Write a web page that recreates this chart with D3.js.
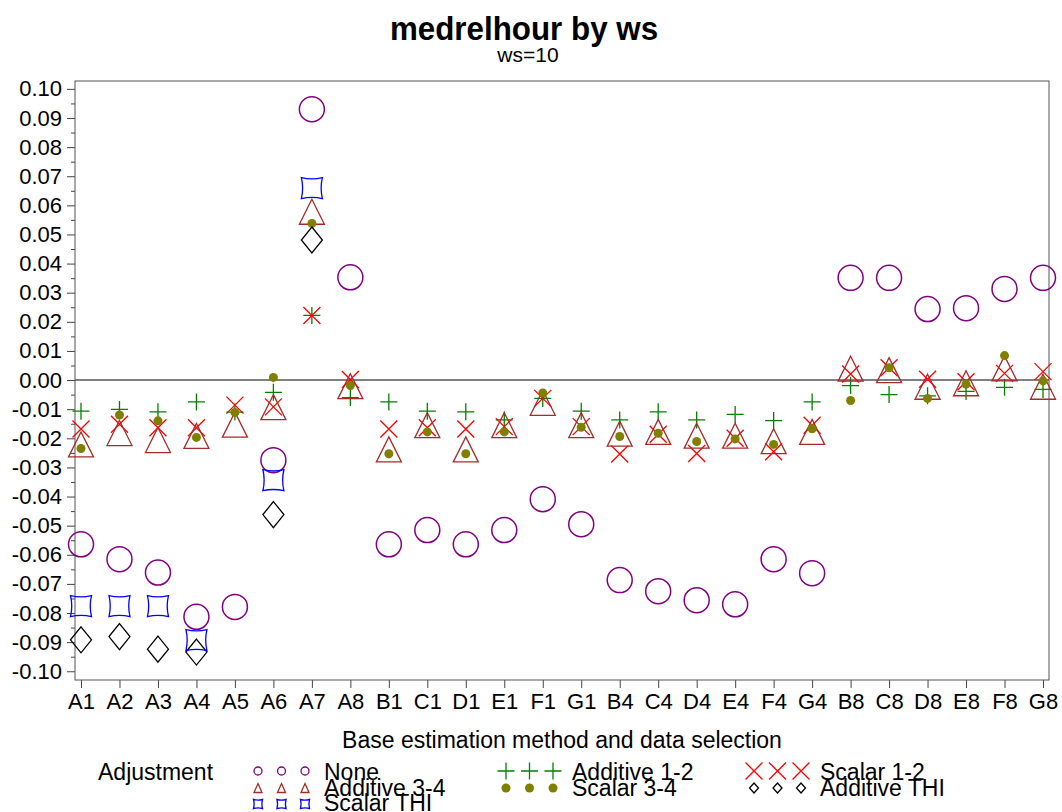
<!DOCTYPE html>
<head>
  <meta charset="utf-8">
  <script src="https://cdn.jsdelivr.net/npm/d3@7/dist/d3.min.js"></script>
  <style>
    body { margin:0; background:#fff; }
    svg { display:block; }
    text { font-family: "Liberation Sans", Arial, sans-serif; fill:#000; }
  </style>
</head>

<body>
  <script>
    var width = 1062;
    var height = 812;

    // categories along the bottom
    var cats = ["A1","A2","A3","A4","A5","A6","A7","A8","B1","C1","D1","E1","F1","G1",
                "B4","C4","D4","E4","F4","G4","B8","C8","D8","E8","F8","G8"];

    // one array per adjustment
    var none   = [-0.0564,-0.0615,-0.0661,-0.0813,-0.0779,-0.0275,0.0930,0.0353,-0.0564,-0.0515,-0.0564,-0.0515,-0.0409,-0.0495,
                  -0.0687,-0.0725,-0.0756,-0.0770,-0.0615,-0.0663,0.0351,0.0351,0.0244,0.0247,0.0313,0.0351];
    var add12  = [-0.0107,-0.0101,-0.0109,-0.0075,-0.0110,-0.0042,0.0222,-0.0060,-0.0075,-0.0107,-0.0109,-0.0137,-0.0063,-0.0107,
                  -0.0137,-0.0109,-0.0137,-0.0118,-0.0139,-0.0075,-0.0019,-0.0050,-0.0054,-0.0039,-0.0025,-0.0032];
    var sc12   = [-0.0168,-0.0152,-0.0164,-0.0164,-0.0086,-0.0092,0.0222,0.0002,-0.0168,-0.0164,-0.0168,-0.0160,-0.0063,-0.0160,
                  -0.0254,-0.0186,-0.0252,-0.0200,-0.0246,-0.0155,0.0021,0.0042,0.0003,-0.0006,0.0023,0.0029];
    var add34  = [-0.0221,-0.0182,-0.0206,-0.0192,-0.0153,-0.0093,0.0578,-0.0021,-0.0238,-0.0155,-0.0238,-0.0155,-0.0078,-0.0155,
                  -0.0184,-0.0178,-0.0191,-0.0191,-0.0210,-0.0178,0.0039,0.0034,-0.0023,-0.0011,0.0040,-0.0023];
    var sc34   = [-0.0235,-0.0120,-0.0140,-0.0197,-0.0111,0.0009,0.0538,-0.0019,-0.0253,-0.0178,-0.0253,-0.0178,-0.0044,-0.0162,
                  -0.0194,-0.0183,-0.0211,-0.0202,-0.0221,-0.0167,-0.0070,0.0042,-0.0063,-0.0014,0.0084,-0.0003];
    var addTHI = [-0.0892,-0.0881,-0.0924,-0.0934,null,-0.0462,0.0481,null,null,null,null,null,null,null,
                  null,null,null,null,null,null,null,null,null,null,null,null];
    var scTHI  = [-0.0776,-0.0776,-0.0776,-0.0893,null,-0.0344,0.0659,null,null,null,null,null,null,null,
                  null,null,null,null,null,null,null,null,null,null,null,null];

    var yTicks = d3.range(-10, 11).map(function(i){ return i / 100; });

    // series table built from the arrays above
    var series = [
      {name:"None",         vals:none,   color:"#800080", shape:"circle"},
      {name:"Additive 1-2", vals:add12,  color:"#008000", shape:"plus"},
      {name:"Scalar 1-2",   vals:sc12,   color:"#ff0000", shape:"x"},
      {name:"Additive 3-4", vals:add34,  color:"#a52a2a", shape:"triangle"},
      {name:"Scalar 3-4",   vals:sc34,   color:"#808000", shape:"dot"},
      {name:"Additive THI", vals:addTHI, color:"#000000", shape:"diamond"},
      {name:"Scalar THI",   vals:scTHI,  color:"#0000ff", shape:"square"}
    ];

    // marker paths, big = plot size, small = legend size
    function shapePath(shape, big) {
      var p = d3.path();
      if (shape == "circle") {
        var r = big ? 12.5 : 4;
        p.arc(0, 0, r, 0, 2 * Math.PI);
      } else if (shape == "dot") {
        p.arc(0, 0, 4.5, 0, 2 * Math.PI);
      } else if (shape == "plus") {
        var s = 8.5;
        p.moveTo(-s, 0); p.lineTo(s, 0); p.moveTo(0, -s); p.lineTo(0, s);
      } else if (shape == "x") {
        var s = 8.5;
        p.moveTo(-s, -s); p.lineTo(s, s); p.moveTo(-s, s); p.lineTo(s, -s);
      } else if (shape == "triangle") {
        var w = big ? 25 : 8, h = big ? 25 : 9;
        p.moveTo(0, -h / 2); p.lineTo(w / 2, h / 2); p.lineTo(-w / 2, h / 2); p.closePath();
      } else if (shape == "diamond") {
        var w = big ? 21 : 9, h = big ? 26 : 10;
        p.moveTo(0, -h / 2); p.lineTo(w / 2, 0); p.lineTo(0, h / 2); p.lineTo(-w / 2, 0); p.closePath();
      } else if (shape == "square") {
        var s = big ? 10.5 : 4.5, c = big ? 2.5 : 1.2;
        p.moveTo(-s, -s);
        p.quadraticCurveTo(0, -s + c, s, -s);
        p.quadraticCurveTo(s - c, 0, s, s);
        p.quadraticCurveTo(0, s - c, -s, s);
        p.quadraticCurveTo(-s + c, 0, -s, -s);
        p.closePath();
      }
      return p.toString();
    }

    var svg = d3.select("body").append("svg")
      .attr("width", width)
      .attr("height", height);

    // plot frame (note: "top" is taken by window.top)
    var pLeft = 75, pRight = 1049, pTop = 81, pBottom = 680;

    var x = d3.scalePoint().domain(cats).range([81, 1043]);
    var y = d3.scaleLinear().domain([-0.103, 0.1027]).range([pBottom, pTop]);

    // titles
    svg.append("text")
      .attr("transform", "translate(524,40) scale(0.95,1)")
      .attr("text-anchor", "middle")
      .style("font-size", "33px").style("font-weight", "bold")
      .text("medrelhour by ws");
    svg.append("text")
      .attr("x", 528).attr("y", 62)
      .attr("text-anchor", "middle")
      .style("font-size", "21px")
      .text("ws=10");

    // minor y ticks
    var minor = d3.range(-9.5, 10, 1).map(function(i){ return i / 100; });
    svg.append("g")
      .attr("transform", "translate(" + pLeft + ",0)")
      .call(d3.axisLeft(y).tickValues(minor).tickSize(4).tickFormat(""))
      .call(function(g){ g.select(".domain").remove(); })
      .selectAll("line").attr("stroke", "#444");

    // y axis
    var yAxis = svg.append("g")
      .attr("transform", "translate(" + pLeft + ",0)")
      .call(d3.axisLeft(y).tickValues(yTicks).tickSize(8).tickPadding(5)
        .tickFormat(function(d){ return d.toFixed(2); }));
    yAxis.select(".domain").remove();
    yAxis.selectAll("line").attr("stroke", "#444");
    yAxis.selectAll("text").style("font-size", "22px").style("font-family", "Liberation Sans, Arial, sans-serif");

    // x axis
    var xAxis = svg.append("g")
      .attr("transform", "translate(0," + pBottom + ")")
      .call(d3.axisBottom(x).tickSize(8).tickPadding(5));
    xAxis.select(".domain").remove();
    xAxis.selectAll("line").attr("stroke", "#444");
    xAxis.selectAll("text").style("font-size", "22px").style("font-family", "Liberation Sans, Arial, sans-serif");

    svg.append("text")
      .attr("x", (pLeft + pRight) / 2).attr("y", 748)
      .attr("text-anchor", "middle")
      .style("font-size", "23px")
      .text("Base estimation method and data selection");

    // zero reference line
    svg.append("line")
      .attr("x1", pLeft).attr("x2", pRight)
      .attr("y1", y(0)).attr("y2", y(0))
      .attr("stroke", "#808080").attr("stroke-width", 2);

    // frame
    svg.append("rect")
      .attr("x", pLeft).attr("y", pTop)
      .attr("width", pRight - pLeft).attr("height", pBottom - pTop)
      .attr("fill", "none").attr("stroke", "#555").attr("stroke-width", 1);

    // markers
    series.forEach(function(s) {
      var pts = cats.map(function(c, i){ return {c:c, v:s.vals[i]}; })
        .filter(function(d){ return d.v != null; });
      svg.append("g").selectAll("path")
        .data(pts).enter()
        .append("path")
        .attr("transform", function(d){ return "translate(" + x(d.c) + "," + y(d.v) + ")"; })
        .attr("d", shapePath(s.shape, true))
        .attr("fill", s.shape == "dot" ? s.color : "none")
        .attr("stroke", s.shape == "dot" ? "none" : s.color)
        .attr("stroke-width", s.shape == "circle" ? 1.5 : 1.3);
    });

    // legend
    svg.append("text")
      .attr("x", 98).attr("y", 780)
      .style("font-size", "23px")
      .text("Adjustment");

    var colX = [258, 506, 754];
    var rowY = [771, 788, 804];
    var rowText = [780, 795.5, 811];
    series.forEach(function(s, i) {
      var col = i % 3, row = Math.floor(i / 3);
      var g = svg.append("g");
      [0, 1, 2].forEach(function(k) {
        g.append("path")
          .attr("transform", "translate(" + (colX[col] + k * 23.5) + "," + rowY[row] + ")")
          .attr("d", shapePath(s.shape, false))
          .attr("fill", s.shape == "dot" ? s.color : "none")
          .attr("stroke", s.shape == "dot" ? "none" : s.color)
          .attr("stroke-width", 1.3);
      });
      g.append("text")
        .attr("x", colX[col] + 66).attr("y", rowText[row])
        .style("font-size", "23px")
        .text(s.name);
    });
  </script>
</body>
</html>
